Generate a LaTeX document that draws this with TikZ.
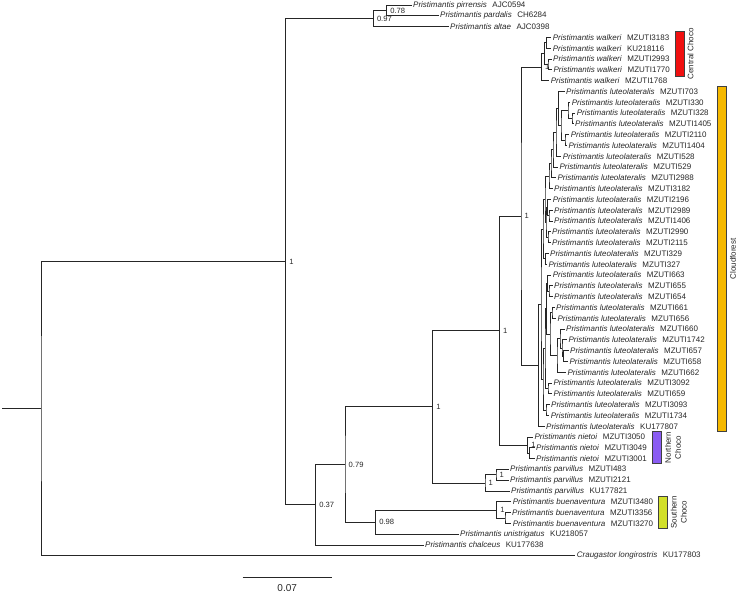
\documentclass[tikz,border=0pt]{standalone}
\usepackage{fontspec}
\setmainfont{Liberation Sans}
\usetikzlibrary{calc,positioning}
\definecolor{branchink}{HTML}{262626}
\definecolor{centralred}{HTML}{F01010}
\definecolor{cloudamber}{HTML}{F5B800}
\definecolor{northviolet}{HTML}{8A5CF2}
\definecolor{southlime}{HTML}{D2E02A}
\tikzset{
  branch/.style={draw=branchink, line width=0.75pt},
  tip/.style={anchor=west, inner sep=1.5pt, font=\fontsize{8}{9}\selectfont, text=branchink},
  support/.style={anchor=west, inner sep=0.5pt, xshift=3pt, font=\fontsize{7.6}{8}\selectfont, text=branchink},
  region/.style={draw=black!75, fill=#1, line width=0.5pt, minimum width=9pt, inner sep=0pt},
  regionlabel/.style={rotate=90, anchor=north, align=center, inner sep=0pt, font=\fontsize{8}{10}\selectfont, text=branchink},
  scaletext/.style={font=\fontsize{10}{12}\selectfont, text=branchink, inner sep=1pt},
}

\begin{document}
\begin{tikzpicture}[x=1pt,y=-1pt]
  \useasboundingbox (0,0) rectangle (739,594);

  % tips, one row every 10.8
  \foreach \i/\x/\sp/\id in {
    0/413/pirrensis/AJC0594, 1/440/pardalis/CH6284, 2/450/altae/AJC0398,
    3/552.7/walkeri/MZUTI3183, 4/552.7/walkeri/KU218116, 5/553/walkeri/MZUTI2993,
    6/553.3/walkeri/MZUTI1770, 7/550.7/walkeri/MZUTI1768,
    8/566/luteolateralis/MZUTI703, 9/571.7/luteolateralis/MZUTI330,
    10/576.7/luteolateralis/MZUTI328, 11/575/luteolateralis/MZUTI1405,
    12/570.7/luteolateralis/MZUTI2110, 13/568.3/luteolateralis/MZUTI1404,
    14/562.7/luteolateralis/MZUTI528, 15/559.3/luteolateralis/MZUTI529,
    16/557.3/luteolateralis/MZUTI2988, 17/554/luteolateralis/MZUTI3182,
    18/552.7/luteolateralis/MZUTI2196, 19/554/luteolateralis/MZUTI2989,
    20/554/luteolateralis/MZUTI1406, 21/552/luteolateralis/MZUTI2990,
    22/552/luteolateralis/MZUTI2115, 23/550/luteolateralis/MZUTI329,
    24/548.3/luteolateralis/MZUTI327, 25/552.7/luteolateralis/MZUTI663,
    26/554/luteolateralis/MZUTI655, 27/554/luteolateralis/MZUTI654,
    28/556/luteolateralis/MZUTI661, 29/557.3/luteolateralis/MZUTI656,
    30/566/luteolateralis/MZUTI660, 31/568.3/luteolateralis/MZUTI1742,
    32/570/luteolateralis/MZUTI657, 33/569.3/luteolateralis/MZUTI658,
    34/567.3/luteolateralis/MZUTI662, 35/553.3/luteolateralis/MZUTI3092,
    36/553.3/luteolateralis/MZUTI659, 37/551/luteolateralis/MZUTI3093,
    38/550.7/luteolateralis/MZUTI1734, 39/546/luteolateralis/KU177807,
    40/534.3/nietoi/MZUTI3050, 41/536/nietoi/MZUTI3049, 42/536/nietoi/MZUTI3001,
    43/510/parvillus/MZUTI483, 44/510/parvillus/MZUTI2121, 45/511/parvillus/KU177821,
    46/512.7/buenaventura/MZUTI3480, 47/512/buenaventura/MZUTI3356,
    48/512.7/buenaventura/MZUTI3270, 49/460/unistrigatus/KU218057,
    50/425/chalceus/KU177638} {
    \node[tip] (t\i) at (\x-1.5,5+10.8*\i) {\textit{Pristimantis \sp}\hspace{5.5pt}\id};
  }
  \node[tip] (t51) at (575.2,5+10.8*51) {\textit{Craugastor longirostris}\hspace{5.5pt}KU177803};

  % internal nodes, children first
  \foreach \n/\x/\a/\b in {
    pp/386.7/t0/t1, top/373.3/pp/t2,
    wB/546.5/t3/t4, wC/548/t5/t6, wA/544.5/wB/wC, walk/541.5/wA/t7,
    la/572/t10/t11, lb/568/t9/la, lc/565/t12/t13, ld/561/lb/lc, le/558.5/t8/ld,
    lf/556/le/t14, lg/553/lf/t15, lh/551/lg/t16, li/549/lh/t17,
    lj/549/t19/t20, lk/547.5/t18/lj, ll/548/t21/t22, lm/546/lk/ll,
    ln/545/li/lm, lo/545.5/t23/t24, lp/543/ln/lo,
    ma/563.5/t32/t33, mb/562/t31/ma, mc/560/t30/mb, md/557/mc/t34,
    me/552/t28/t29, mf/550/me/md, mg/549/t26/t27, mh/547.5/t25/mg,
    mi/546.5/mh/mf, mj/548/t35/t36, mk/545/mi/mj, ml/546/t37/t38, mm/543/mk/ml,
    lcrown/541/lp/mm, lute/538.3/lcrown/t39, cw/521/walk/lute,
    ni/529.3/t41/t42, niet/527.7/t40/ni, cx/499.3/cw/niet,
    pv1/496/t43/t44, pv/485/pv1/t45, c1/432.7/cx/pv,
    bu1/505/t47/t48, bu/496.7/t46/bu1, c98/375.7/bu/t49,
    c79/345/c1/c98, c37/315.7/c79/t50, prist/285.7/top/c37, root/41/prist/t51} {
    \path ($(\a)!0.5!(\b)$) coordinate (mid);
    \coordinate (\n) at (\x,0 |- mid);
    \draw[branch] (\a) -| (\n) |- (\b);
  }
  \coordinate (stub) at (2,0 |- root);
  \draw[branch] (stub) -- (root);

  % posterior support
  \foreach \n/\v [count=\k] in {pp/0.78, top/0.97, prist/1, c37/0.37, c79/0.79, c98/0.98,
    c1/1, cx/1, cw/1, walk/1, niet/1, pv/1, pv1/1, bu/1} {
    \node[support] (s\k) at (\n) {\v};
  }

  % regions
  \node[region=centralred, minimum height=44.3pt] (boxcentral) at (679.5,53.9) {};
  \node[regionlabel] (labcentral) at ($(boxcentral.east)+(3,0)$) {Central Choco};
  \node[region=cloudamber, minimum height=344.3pt] (boxcloud) at (722.2,258.9) {};
  \node[regionlabel] (labcloud) at ($(boxcloud.east)+(3,0)$) {Cloudforest};
  \node[region=northviolet, minimum height=31.6pt] (boxnorth) at (657.2,447.5) {};
  \node[regionlabel] (labnorth) at ($(boxnorth.east)+(3,0)$) {Northern\\Choco};
  \node[region=southlime, minimum height=32.3pt] (boxsouth) at (662.8,512.2) {};
  \node[regionlabel] (labsouth) at ($(boxsouth.east)+(3,0)$) {Southern\\Choco};

  % scale bar
  \coordinate (barl) at (242.7,577.7);
  \coordinate (barr) at (331.7,577.7);
  \draw[branch] (barl) -- (barr);
  \node[scaletext] (barlabel) at (287.2,588.5) {0.07};
\end{tikzpicture}
\end{document}
